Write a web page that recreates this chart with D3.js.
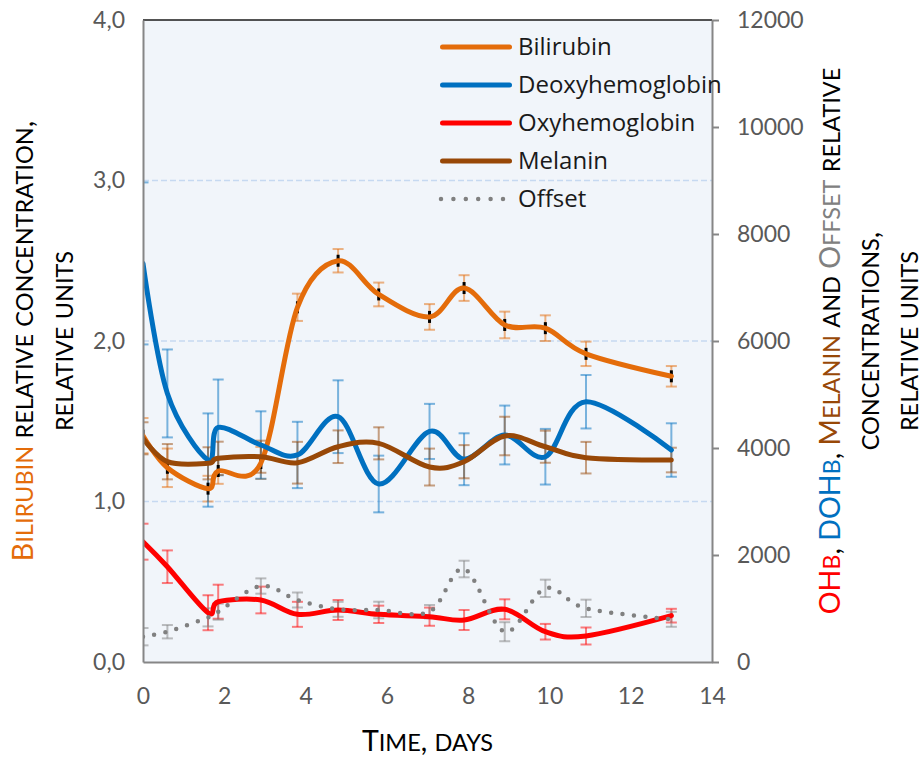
<!DOCTYPE html>
<html>
<head>
<meta charset="utf-8">
<script src="https://cdn.jsdelivr.net/npm/d3@7"></script>
<style>
  body { margin: 0; background: #ffffff; }
  svg { display: block; }
</style>
</head>
<body>
<svg id="chart" width="923" height="762"></svg>
<script>
// Sampling days
const days = [0, 0.6, 1.6, 1.85, 2.9, 3.8, 4.8, 5.8, 7.05, 7.9, 8.9, 9.9, 10.9, 13];

// Bilirubin (left axis)
const bilirubin    = [1.41, 1.21, 1.08, 1.19, 1.24, 2.21, 2.50, 2.29, 2.15, 2.33, 2.10, 2.08, 1.92, 1.78];
const bilirubinErr = [0.11, 0.12, 0.08, 0.08, 0.10, 0.085, 0.073, 0.074, 0.08, 0.08, 0.083, 0.08, 0.076, 0.064];

// Right-axis series
const deoxy       = [7450, 5020, 3775, 4385, 4056, 3870, 4585, 3327, 4310, 3790, 4243, 3837, 4865, 3962];
const deoxyErr    = [1514, 822, 872, 895, 630, 620, 680, 530, 515, 485, 550, 520, 500, 500];
const oxy         = [2249, 1781, 921, 1127, 1159, 891, 972, 891, 847, 785, 985, 566, 486, 866];
const oxyErr      = [336, 305, 327, 318, 250, 234, 187, 162, 170, 187, 187, 146, 159, 128];
const melanin     = [4181, 3744, 3714, 3807, 3837, 3725, 4024, 4087, 3644, 3744, 4224, 4024, 3819, 3775];
const melaninErr  = [300, 330, 300, 311, 300, 390, 305, 300, 345, 310, 360, 300, 295, 230];
const offset      = [473, 566, 835, 940, 1420, 1159, 985, 972, 940, 1738, 566, 1377, 1003, 798];
const offsetErr   = [162, 125, 170, 150, 143, 140, 140, 155, 125, 155, 178, 162, 162, 140];

// Axis ticks
const xTicks = [0, 2, 4, 6, 8, 10, 12, 14];
const leftTicks = [0, 1, 2, 3, 4];
const rightTicks = [0, 2000, 4000, 6000, 8000, 10000, 12000];
const gridTicks = [1, 2, 3];

const legendNames = ["Bilirubin", "Deoxyhemoglobin", "Oxyhemoglobin", "Melanin", "Offset"];

const C = {
  bilirubin: "#E46C0A",
  deoxy: "#0070C0",
  oxy: "#FF0000",
  melanin: "#984807",
  offset: "#808080",
  tick: "#595959",
  axis: "#868686"
};

const svg = d3.select("#chart");
const plot = { left: 143, right: 712, top: 20, bottom: 662 };

const x  = d3.scaleLinear().domain([0, 14]).range([plot.left, plot.right]);
const yL = d3.scaleLinear().domain([0, 4]).range([plot.bottom, plot.top]);
const yR = d3.scaleLinear().domain([0, 12000]).range([plot.bottom, plot.top]);

const series = [
  { name: legendNames[0], v: bilirubin, e: bilirubinErr, y: yL, color: C.bilirubin, dotted: false },
  { name: legendNames[1], v: deoxy,     e: deoxyErr,     y: yR, color: C.deoxy,     dotted: false },
  { name: legendNames[2], v: oxy,       e: oxyErr,       y: yR, color: C.oxy,       dotted: false },
  { name: legendNames[3], v: melanin,   e: melaninErr,   y: yR, color: C.melanin,   dotted: false },
  { name: legendNames[4], v: offset,    e: offsetErr,    y: yR, color: C.offset,    dotted: true }
];

// Plot background
svg.append("rect")
  .attr("x", plot.left).attr("y", plot.top)
  .attr("width", plot.right - plot.left).attr("height", plot.bottom - plot.top)
  .attr("fill", "#F1F5FA");

svg.append("clipPath").attr("id", "plotClip")
  .append("rect")
  .attr("x", plot.left).attr("y", plot.top)
  .attr("width", plot.right - plot.left).attr("height", plot.bottom - plot.top);

// Dashed horizontal gridlines
svg.append("g").selectAll("line").data(gridTicks).join("line")
  .attr("x1", plot.left).attr("x2", plot.right)
  .attr("y1", d => yL(d)).attr("y2", d => yL(d))
  .attr("stroke", "#C6D9F1").attr("stroke-width", 1.4)
  .attr("stroke-dasharray", "6,3");

const g = svg.append("g").attr("clip-path", "url(#plotClip)");

// Error bars
const capHalf = 5.5;
series.forEach(s => {
  const eb = g.append("g").attr("stroke", s.color).attr("stroke-opacity", 0.5).attr("stroke-width", 2);
  days.forEach((d, i) => {
    const cx = x(d), top = s.y(s.v[i] + s.e[i]), bot = s.y(s.v[i] - s.e[i]);
    eb.append("line").attr("x1", cx).attr("x2", cx).attr("y1", top).attr("y2", bot);
    eb.append("line").attr("x1", cx - capHalf).attr("x2", cx + capHalf).attr("y1", top).attr("y2", top);
    eb.append("line").attr("x1", cx - capHalf).attr("x2", cx + capHalf).attr("y1", bot).attr("y2", bot);
  });
});

// Black point markers under the bilirubin curve
g.append("g").selectAll("rect").data(days).join("rect")
  .attr("x", d => x(d) - 1.5)
  .attr("y", (d, i) => yL(bilirubin[i]) - 6)
  .attr("width", 3).attr("height", 12)
  .attr("fill", "#000");

// Smoothed series curves
series.forEach(s => {
  const line = d3.line()
    .x((d, i) => x(days[i]))
    .y((d, i) => s.y(d))
    .curve(d3.curveCardinal.tension(0));
  const p = g.append("path")
    .attr("d", line(s.v))
    .attr("fill", "none")
    .attr("stroke", s.color)
    .attr("stroke-linejoin", "round");
  if (s.dotted) {
    p.attr("stroke-width", 4.5).attr("stroke-linecap", "round").attr("stroke-dasharray", "0 11.4");
  } else {
    p.attr("stroke-width", 5).attr("stroke-linecap", "round");
  }
});

// Frame: top edge
svg.append("line")
  .attr("x1", plot.left).attr("x2", plot.right)
  .attr("y1", plot.top).attr("y2", plot.top)
  .attr("stroke", "#1a1a1a").attr("stroke-width", 1.5);

const tickFont = "Lato, 'Open Sans', sans-serif";

// Left axis
const leftAxis = svg.append("g").attr("transform", `translate(${plot.left},0)`)
  .call(d3.axisLeft(yL).tickValues(leftTicks).tickSize(0).tickPadding(18)
    .tickFormat(d => d3.format(".1f")(d).replace(".", ",")));
// Right axis
const rightAxis = svg.append("g").attr("transform", `translate(${plot.right},0)`)
  .call(d3.axisRight(yR).tickValues(rightTicks).tickSize(7).tickSizeOuter(0).tickPadding(18)
    .tickFormat(d3.format("d")));
// Bottom axis
const bottomAxis = svg.append("g").attr("transform", `translate(0,${plot.bottom})`)
  .call(d3.axisBottom(x).tickValues(xTicks).tickSize(0).tickPadding(26).tickFormat(d3.format("d")));

[leftAxis, rightAxis, bottomAxis].forEach(a => {
  a.select(".domain").attr("stroke", C.axis).attr("stroke-width", 2);
  a.selectAll(".tick line").attr("stroke", C.axis).attr("stroke-width", 2);
  a.selectAll("text").attr("fill", C.tick).attr("font-size", 23).attr("font-family", tickFont);
});

// Titles rendered with small capitals
const titleFont = "Lato, 'Open Sans', sans-serif";
const bigSize = 28.5, smallSize = 23.5;
function smallCaps(textSel, parts) {
  parts.forEach(p => {
    const runs = p.text.match(/[a-z]+|[^a-z]+/g) || [];
    runs.forEach(r => {
      const lower = /^[a-z]+$/.test(r);
      textSel.append("tspan")
        .attr("fill", p.color || "#000")
        .attr("font-size", lower ? smallSize : bigSize)
        .text(lower ? r.toUpperCase() : r);
    });
  });
  return textSel;
}
function title(tx, ty, rot, parts) {
  const t = svg.append("text")
    .attr("transform", `translate(${tx},${ty}) rotate(${rot})`)
    .attr("text-anchor", "middle")
    .attr("font-family", titleFont);
  smallCaps(t, parts);
}

const midY = (plot.top + plot.bottom) / 2;
title(33, midY, -90, [
  { text: "Bilirubin", color: C.bilirubin },
  { text: " relative concentration," }
]);
title(73, midY, -90, [{ text: "relative units" }]);

title(840, midY, -90, [
  { text: "OHb", color: C.oxy },
  { text: ", " },
  { text: "DOHb", color: C.deoxy },
  { text: ", " },
  { text: "Melanin", color: C.melanin },
  { text: " and " },
  { text: "Offset", color: C.offset },
  { text: " relative" }
]);
title(879, midY, -90, [{ text: "concentrations," }]);
title(918, midY, -90, [{ text: "relative units" }]);

title((plot.left + plot.right) / 2, 751, 0, [{ text: "Time, days" }]);

// Legend
const leg = svg.append("g");
const legY = d3.scalePoint().domain(legendNames).range([47, 199]);
series.forEach(s => {
  const yy = legY(s.name);
  const l = leg.append("line")
    .attr("y1", yy).attr("y2", yy)
    .attr("stroke", s.color).attr("stroke-linecap", "round");
  if (s.dotted) {
    l.attr("x1", 441).attr("x2", 503).attr("stroke-width", 4.5).attr("stroke-dasharray", "0 12.4");
  } else {
    l.attr("x1", 442.5).attr("x2", 509.5).attr("stroke-width", 5);
  }
  leg.append("text")
    .attr("x", 518).attr("y", yy).attr("dy", "0.35em")
    .attr("font-family", "'Open Sans', sans-serif")
    .attr("font-size", 24)
    .attr("fill", "#1a1a1a")
    .text(s.name);
});
</script>
</body>
</html>
